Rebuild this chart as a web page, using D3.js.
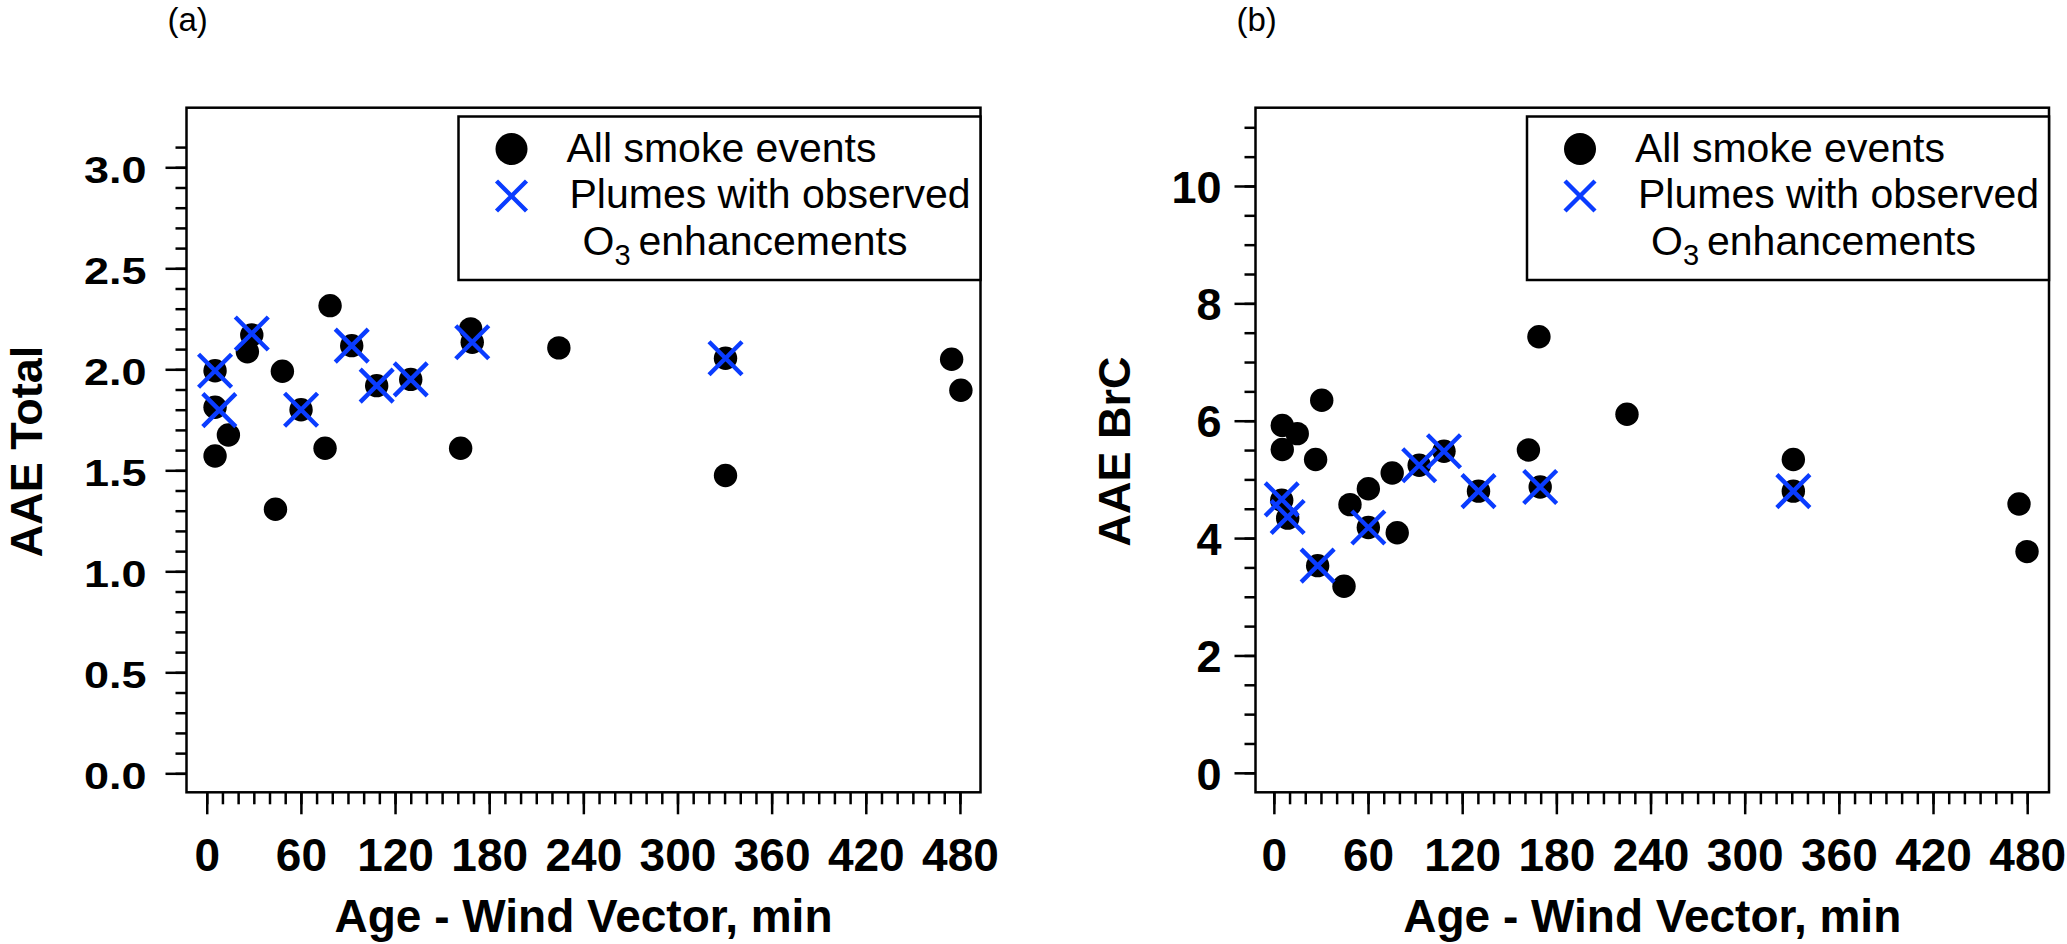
<!DOCTYPE html>
<html>
<head>
<meta charset="utf-8">
<script src="https://cdn.jsdelivr.net/npm/d3@7"></script>
<style>
body{margin:0;background:#fff}
svg{display:block}
text{font-family:"Liberation Sans",Arial,sans-serif}
</style>
</head>
<body>
<svg id="chart"></svg>
<script>
// panel (a): AAE Total vs age, all smoke events
var ageA = [5.3, 5.3, 13.8, 5.3, 28.7, 25.9, 43.8, 48.2, 60.1, 75.4, 78.6, 92.4, 108.3, 130.0, 161.8, 168.2, 169.2, 224.4, 330.6, 330.6, 474.7, 480.6];
var aaeTotal = [1.993, 1.812, 1.675, 1.571, 2.17, 2.087, 1.307, 1.99, 1.80, 1.609, 2.315, 2.117, 1.919, 1.95, 1.609, 2.20, 2.134, 2.106, 2.055, 1.474, 2.05, 1.896];
// panel (a): plumes with observed O3 enhancements
var o3AgeA = [5.3, 8.0, 28.7, 60.1, 92.4, 108.3, 130.0, 169.2, 330.6];
var o3Total = [1.993, 1.798, 2.177, 1.80, 2.117, 1.919, 1.95, 2.134, 2.055];

// panel (b): AAE BrC vs age, all smoke events
var ageB = [5.0, 8.8, 5.35, 5.35, 14.9, 26.6, 30.5, 27.9, 44.7, 48.5, 60.2, 60.2, 75.4, 78.6, 92.6, 108.4, 130.4, 162.2, 168.9, 169.7, 225.0, 331.0, 331.0, 474.8, 479.9];
var aaeBrC = [4.645, 4.34, 5.92, 5.51, 5.78, 5.34, 6.35, 3.53, 3.18, 4.57, 4.84, 4.18, 5.11, 4.09, 5.24, 5.48, 4.80, 5.50, 7.43, 4.87, 6.11, 5.34, 4.80, 4.58, 3.77];
// panel (b): plumes with observed O3 enhancements
var o3AgeB = [5.0, 8.8, 27.9, 60.2, 92.6, 108.4, 130.4, 169.7, 331.0];
var o3BrC = [4.66, 4.36, 3.53, 4.18, 5.24, 5.48, 4.80, 4.87, 4.80];

var xTicks = [0, 60, 120, 180, 240, 300, 360, 420, 480];
var xMinor = d3.range(0, 481, 10);
var yTicksA = [0, 0.5, 1.0, 1.5, 2.0, 2.5, 3.0];
var yMinorA = d3.range(0, 32).map(function(i){ return i / 10; });
var yTicksB = [0, 2, 4, 6, 8, 10];
var yMinorB = d3.range(0, 23).map(function(i){ return i / 2; });

var legendLabels = ['All smoke events', 'Plumes with observed', 'enhancements'];

const WIDTH = 2067;
const HEIGHT = 944;
const TOP = 107.7;
const BOTTOM = 792.3;
const BLUE = '#0a3cff';

var svg = d3.select('#chart')
	.attr('width', WIDTH)
	.attr('height', HEIGHT);

svg.append('rect').attr('width', WIDTH).attr('height', HEIGHT).attr('fill', '#fff');

var cross = function(h){
	return 'M' + (-h) + ',' + (-h) + 'L' + h + ',' + h + 'M' + (-h) + ',' + h + 'L' + h + ',' + (-h);
}

var styleTicks = function(g){
	g.select('.domain').remove();
	g.selectAll('line').attr('stroke', '#000').attr('stroke-width', 2.5);
}

var drawPanel = function(p){
	var x = d3.scaleLinear().domain(p.xDomain).range([p.left, p.right]);
	var y = d3.scaleLinear().domain(p.yDomain).range([BOTTOM, TOP]);

	// x axis, minor then major ticks
	svg.append('g')
		.attr('transform', 'translate(0,' + BOTTOM + ')')
		.call(d3.axisBottom(x).tickValues(xMinor).tickSize(12).tickFormat(''))
		.call(styleTicks);

	var xg = svg.append('g')
		.attr('transform', 'translate(0,' + BOTTOM + ')')
		.call(d3.axisBottom(x).tickValues(xTicks).tickSize(22).tickFormat(d3.format('d')))
		.call(styleTicks);
	xg.selectAll('text')
		.attr('y', 78.7).attr('dy', 0)
		.attr('font-size', 46).attr('font-weight', 'bold').attr('fill', '#000');

	// y axis
	svg.append('g')
		.attr('transform', 'translate(' + p.left + ',0)')
		.call(d3.axisLeft(y).tickValues(p.yMinor).tickSize(11).tickFormat(''))
		.call(styleTicks);

	var yg = svg.append('g')
		.attr('transform', 'translate(' + p.left + ',0)')
		.call(d3.axisLeft(y).tickValues(p.yTicks).tickSize(21).tickFormat(p.yFormat))
		.call(styleTicks);
	yg.selectAll('text')
		.attr('x', -p.labelGap).attr('dy', p.labelDy)
		.attr('font-size', p.labelSize).attr('font-weight', 'bold').attr('fill', '#000')
		.attr('transform', 'scale(1,' + p.labelScaleY + ')');

	// frame
	svg.append('rect')
		.attr('x', p.left).attr('y', TOP)
		.attr('width', p.right - p.left).attr('height', BOTTOM - TOP)
		.attr('fill', 'none').attr('stroke', '#000').attr('stroke-width', 2.5);

	// points
	svg.append('g').selectAll('circle').data(p.ages)
		.enter().append('circle')
		.attr('cx', function(d){ return x(d); })
		.attr('cy', function(d, i){ return y(p.vals[i]); })
		.attr('r', 11.7)
		.attr('fill', '#000');

	svg.append('g').selectAll('path').data(p.o3Ages)
		.enter().append('path')
		.attr('transform', function(d, i){ return 'translate(' + x(d) + ',' + y(p.o3Vals[i]) + ')'; })
		.attr('d', cross(16.5))
		.attr('fill', 'none').attr('stroke', BLUE).attr('stroke-width', 4.4);

	// legend
	var lx = p.right - 522;
	var lg = svg.append('g');
	lg.append('rect')
		.attr('x', lx).attr('y', 116.5).attr('width', 522).attr('height', 163.5)
		.attr('fill', '#fff').attr('stroke', '#000').attr('stroke-width', 2.5);
	lg.append('circle').attr('cx', lx + 53).attr('cy', 149).attr('r', 16).attr('fill', '#000');
	lg.append('path')
		.attr('transform', 'translate(' + (lx + 53) + ',196)')
		.attr('d', cross(15))
		.attr('fill', 'none').attr('stroke', BLUE).attr('stroke-width', 4.4);
	lg.append('text').attr('x', lx + 108).attr('y', 161.7).attr('font-size', 41).text(legendLabels[0]);
	lg.append('text').attr('x', lx + 111).attr('y', 208.3).attr('font-size', 41).text(legendLabels[1]);
	var t3 = lg.append('text').attr('x', lx + 124).attr('y', 255).attr('font-size', 41);
	t3.append('tspan').text('O');
	t3.append('tspan').attr('font-size', 29).attr('dy', 10).text('3');
	t3.append('tspan').attr('x', lx + 180).attr('dy', -10).text(legendLabels[2]);

	// titles
	svg.append('text')
		.attr('x', (p.left + p.right) / 2).attr('y', 932)
		.attr('text-anchor', 'middle').attr('font-size', 46).attr('font-weight', 'bold')
		.text('Age - Wind Vector, min');

	svg.append('text')
		.attr('transform', 'translate(' + p.titleX + ',451.5) rotate(-90)')
		.attr('text-anchor', 'middle').attr('font-size', 45).attr('font-weight', 'bold')
		.text(p.title);

	svg.append('text')
		.attr('x', p.left - 19).attr('y', 31)
		.attr('font-size', 33)
		.text(p.tag);
}

drawPanel({
	left: 186.5, right: 980.5,
	xDomain: [-12.9, 493.1], yDomain: [-0.094, 3.295],
	yTicks: yTicksA, yMinor: yMinorA, yFormat: d3.format('.1f'),
	labelGap: 40, labelDy: '0.4em', labelSize: 45, labelScaleY: 0.82,
	ages: ageA, vals: aaeTotal, o3Ages: o3AgeA, o3Vals: o3Total,
	title: 'AAE Total', titleX: 42, tag: '(a)'
});

drawPanel({
	left: 1255.5, right: 2049,
	xDomain: [-11.7, 493.9], yDomain: [-0.332, 11.334],
	yTicks: yTicksB, yMinor: yMinorB, yFormat: d3.format('d'),
	labelGap: 34, labelDy: '0.36em', labelSize: 45, labelScaleY: 1,
	ages: ageB, vals: aaeBrC, o3Ages: o3AgeB, o3Vals: o3BrC,
	title: 'AAE BrC', titleX: 1130, tag: '(b)'
});
</script>
</body>
</html>
